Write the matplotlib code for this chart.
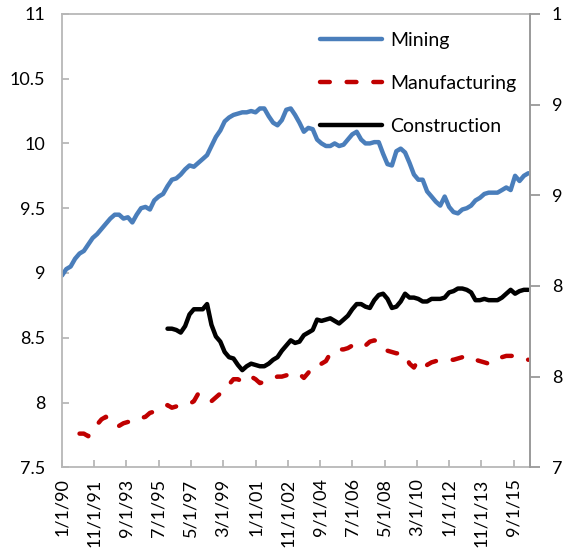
import numpy as np
import pandas as pd
import matplotlib
matplotlib.use("Agg")
import matplotlib.pyplot as plt

plt.rcParams['font.family'] = ['Lato', 'DejaVu Sans']

# quarterly series, first quarter = Jan 1990
mining = [
    8.98, 9.03, 9.05, 9.11, 9.15, 9.17, 9.22, 9.27, 9.30, 9.34,
    9.38, 9.42, 9.45, 9.45, 9.42, 9.43, 9.39, 9.45, 9.50, 9.51,
    9.49, 9.56, 9.59, 9.61, 9.67, 9.72, 9.73, 9.76, 9.80, 9.83,
    9.82, 9.85, 9.88, 9.91, 9.98, 10.05, 10.10, 10.17, 10.20, 10.22,
    10.23, 10.24, 10.24, 10.25, 10.24, 10.27, 10.27, 10.21, 10.16, 10.14,
    10.18, 10.26, 10.27, 10.22, 10.16, 10.09, 10.12, 10.11, 10.03, 10.00,
    9.98, 9.98, 10.00, 9.98, 9.99, 10.03, 10.07, 10.09, 10.03, 10.00,
    10.00, 10.01, 10.01, 9.92, 9.84, 9.83, 9.94, 9.96, 9.93, 9.85,
    9.76, 9.72, 9.72, 9.63, 9.59, 9.55, 9.52, 9.59, 9.51, 9.47,
    9.46, 9.49, 9.50, 9.52, 9.56, 9.58, 9.61, 9.62, 9.62, 9.62,
    9.64, 9.66, 9.64, 9.75, 9.71, 9.75, 9.77,
]

# starts 4 quarters later (Jan 1991)
manufacturing = [
    7.76, 7.76, 7.74, 7.79, 7.83, 7.87,
    7.89, 7.84, 7.82, 7.82, 7.84, 7.85, 7.85, 7.86, 7.88, 7.89,
    7.92, 7.93, 7.95, 7.97, 7.98, 7.96, 7.97, 7.98, 7.99, 7.99,
    8.01, 8.07, 8.05, 8.03, 8.01, 8.04, 8.07, 8.10, 8.14, 8.18,
    8.18, 8.16, 8.19, 8.20, 8.18, 8.15, 8.16, 8.17, 8.19, 8.20,
    8.20, 8.21, 8.22, 8.23, 8.22, 8.19, 8.23, 8.28, 8.30, 8.30,
    8.32, 8.38, 8.40, 8.41, 8.41, 8.42, 8.44, 8.45, 8.43, 8.44,
    8.47, 8.48, 8.47, 8.43, 8.40, 8.39, 8.38, 8.38, 8.37, 8.30,
    8.27, 8.33, 8.30, 8.29, 8.31, 8.32, 8.32, 8.32, 8.33, 8.33,
    8.34, 8.35, 8.36, 8.35, 8.33, 8.32, 8.31, 8.30, 8.31, 8.34,
    8.35, 8.36, 8.36, 8.36, 8.35, 8.34, 8.33,
]

# starts 24 quarters later (Jan 1996)
construction = [
    8.57, 8.57, 8.56, 8.54, 8.59, 8.68,
    8.72, 8.72, 8.72, 8.76, 8.60, 8.51, 8.47, 8.39, 8.35, 8.34,
    8.29, 8.25, 8.28, 8.30, 8.29, 8.28, 8.28, 8.30, 8.33, 8.35,
    8.40, 8.44, 8.48, 8.46, 8.47, 8.52, 8.54, 8.56, 8.64, 8.63,
    8.64, 8.65, 8.63, 8.61, 8.64, 8.67, 8.72, 8.76, 8.76, 8.74,
    8.73, 8.79, 8.83, 8.84, 8.80, 8.73, 8.74, 8.78, 8.84, 8.81,
    8.81, 8.80, 8.78, 8.78, 8.80, 8.80, 8.80, 8.81, 8.85, 8.86,
    8.88, 8.88, 8.87, 8.85, 8.79, 8.79, 8.80, 8.79, 8.79, 8.79,
    8.81, 8.84, 8.87, 8.84, 8.86, 8.87, 8.87,
]

tick_dates = ['1990-01-01', '1991-11-01', '1993-09-01', '1995-07-01', '1997-05-01',
              '1999-03-01', '2001-01-01', '2002-11-01', '2004-09-01', '2006-07-01',
              '2008-05-01', '2010-03-01', '2012-01-01', '2013-11-01', '2015-09-01']
tick_labels = ['1/1/90', '11/1/91', '9/1/93', '7/1/95', '5/1/97', '3/1/99', '1/1/01',
               '11/1/02', '9/1/04', '7/1/06', '5/1/08', '3/1/10', '1/1/12', '11/1/13', '9/1/15']

left_ticks = [7.5, 8, 8.5, 9, 9.5, 10, 10.5, 11]
right_ticks = [7, 7.6, 8.2, 8.8, 9.4, 10]
right_labels = ['7', '8', '8', '9', '9', '1']

dates = pd.date_range('1990-01-01', periods=len(mining), freq='QS')
d_manu = dates[len(mining) - len(manufacturing):]
d_cons = dates[len(mining) - len(construction):]

fig = plt.figure(figsize=(5.63, 5.55), dpi=100)
ax = fig.add_axes([0.110, 0.158, 0.831, 0.817])

ax.plot(dates, mining, color='#4a7ebb', lw=3.2, label='Mining', solid_capstyle='round')
ax.plot(d_manu, manufacturing, color='#c00000', lw=3.2, label='Manufacturing',
        dashes=(2.2, 3.8), dash_capstyle='round')
ax.plot(d_cons, construction, color='black', lw=3.2, label='Construction', solid_capstyle='round')

ax.set_xlim(pd.Timestamp('1990-01-01'), pd.Timestamp('2016-08-01'))
ax.set_ylim(7.5, 11)
ax.set_yticks(left_ticks)
ax.set_yticklabels([f'{t:g}' for t in left_ticks])
ax.set_xticks(pd.to_datetime(tick_dates))
ax.set_xticklabels(tick_labels, rotation=90)

grey = '#b7b7b7'
for s in ax.spines.values():
    s.set_color(grey)
    s.set_linewidth(1.3)
ax.tick_params(axis='y', direction='in', length=5, width=1.3, color=grey,
               labelsize=13, pad=12)
ax.tick_params(axis='x', direction='in', length=5, width=1.3, color=grey,
               labelsize=13, pad=8)

ax2 = ax.twinx()
ax2.set_ylim(7, 10)
ax2.set_yticks(right_ticks)
ax2.set_yticklabels(right_labels)
for s in ax2.spines.values():
    s.set_visible(False)
ax2.spines['right'].set_visible(True)
ax2.spines['right'].set_color('#999999')
ax2.spines['right'].set_linewidth(1.3)
ax2.tick_params(axis='y', direction='out', length=7, width=1.3, color='#999999',
                labelsize=13, pad=9)

leg = ax.legend(loc='upper right', bbox_to_anchor=(1.0, 0.99), frameon=False,
                fontsize=14, handlelength=3.2, handletextpad=0.4, labelspacing=1.33,
                borderaxespad=0.3)

fig.savefig('out.png', dpi=100)
